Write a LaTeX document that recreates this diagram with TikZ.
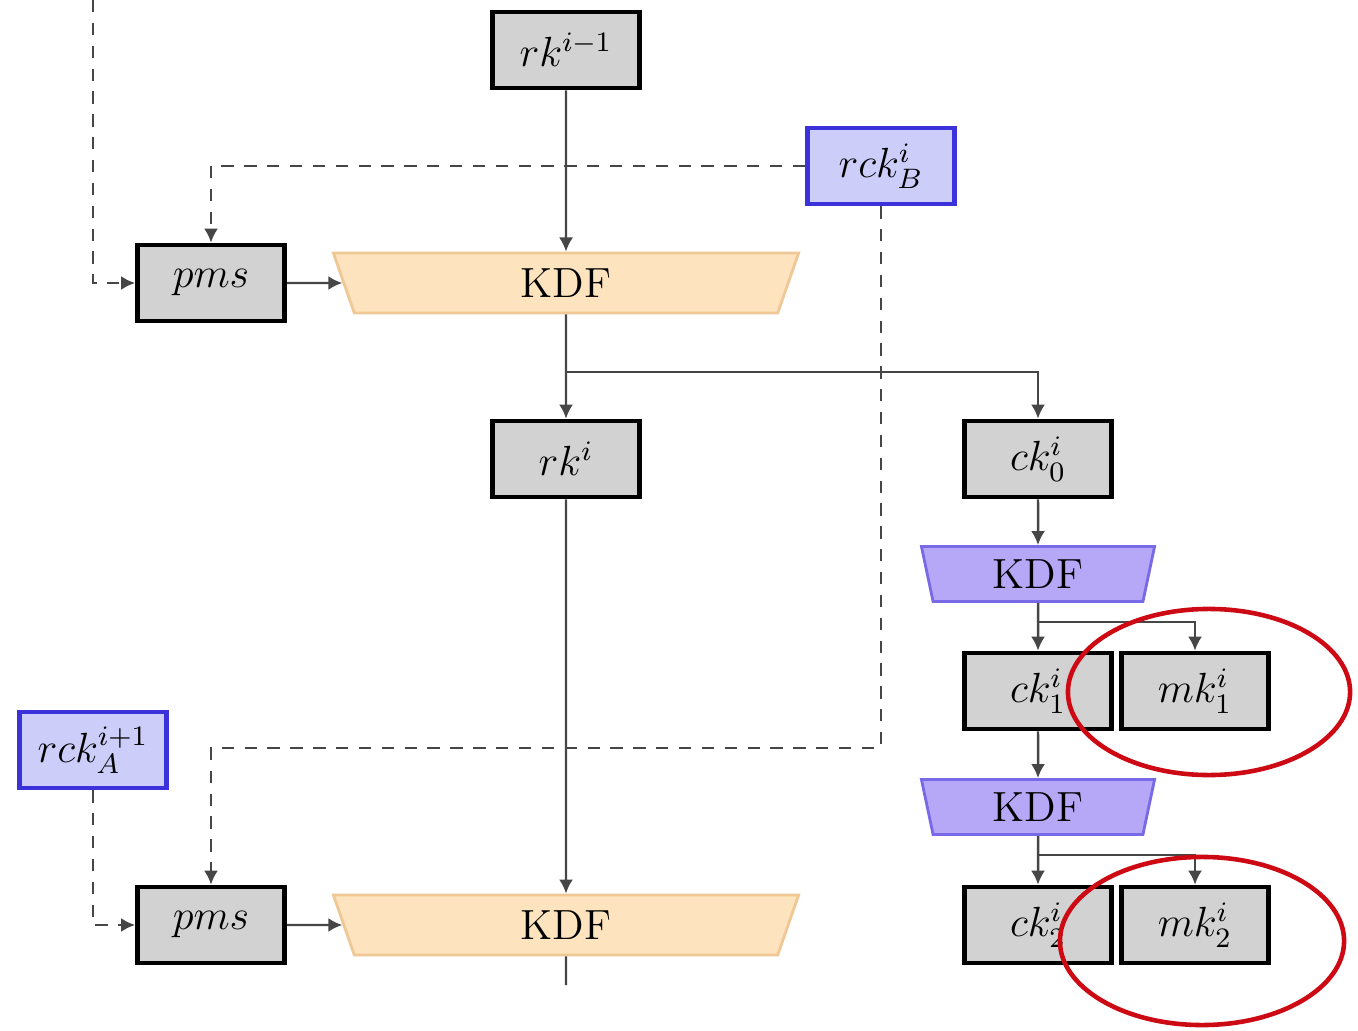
\documentclass[tikz,border=0pt]{standalone}
\usetikzlibrary{arrows.meta,shapes.geometric}
\definecolor{boxgray}{RGB}{210,210,210}
\definecolor{bluefill}{RGB}{205,205,250}
\definecolor{blueline}{RGB}{60,50,220}
\definecolor{kdforange}{RGB}{253,228,190}
\definecolor{kdforangeline}{RGB}{240,200,150}
\definecolor{kdfpurple}{RGB}{182,168,246}
\definecolor{kdfpurpleline}{RGB}{120,105,230}
\definecolor{linegray}{RGB}{70,70,70}
\definecolor{ellred}{RGB}{205,10,20}
\begin{document}
\begin{tikzpicture}[x=0.01cm,y=-0.01cm,font=\large,
  keybox/.style={draw=black,line width=1.3pt,fill=boxgray,minimum width=1.47cm,minimum height=0.76cm,inner sep=0pt},
  bluebox/.style={keybox,draw=blueline,fill=bluefill},
  kdfbig/.style={trapezium,shape border rotate=180,trapezium stretches body,trapezium left angle=54,trapezium right angle=54,minimum width=4.65cm,minimum height=0.6cm,inner sep=0pt,fill=kdforange,draw=kdforangeline,line width=0.8pt},
  kdfsmall/.style={trapezium,shape border rotate=180,trapezium stretches body,trapezium left angle=68,trapezium right angle=68,minimum width=2.33cm,minimum height=0.55cm,inner sep=0pt,fill=kdfpurple,draw=kdfpurpleline,line width=0.8pt},
  conn/.style={draw=linegray,line width=0.7pt,-{Latex[length=4pt,width=4pt]}},
  dconn/.style={conn,dash pattern=on 3.5pt off 3pt},
  ring/.style={draw=ellred,line width=1.3pt}]
\useasboundingbox (0,0) rectangle (1358,1031);
% nodes
\node[keybox] (rkprev) at (566,50) {$rk^{i-1}$};
\node[bluebox] (rckB) at (881,166) {$rck_B^i$};
\node[keybox] (pms1) at (211,283) {$pms$};
\node[kdfbig] (kdf1) at (566,283) {KDF};
\node[keybox] (rk) at (566,459) {$rk^i$};
\node[keybox] (ck0) at (1038,459) {$ck_0^i$};
\node[kdfsmall] (kdf2) at (1038,574) {KDF};
\node[keybox] (ck1) at (1038,691) {$ck_1^i$};
\node[keybox] (mk1) at (1195,691) {$mk_1^i$};
\node[kdfsmall] (kdf3) at (1038,807) {KDF};
\node[keybox] (ck2) at (1038,925) {$ck_2^i$};
\node[keybox] (mk2) at (1195,925) {$mk_2^i$};
\node[bluebox] (rckA) at (93,750) {$rck_A^{i+1}$};
\node[keybox] (pms2) at (211,925) {$pms$};
\node[kdfbig] (kdf4) at (566,925) {KDF};
\coordinate (topin) at (93,0);
\coordinate (botout) at (566,985);
% connectors
\draw[dconn] (topin) |- (pms1.west);
\draw[dconn] (rckB.west) -| (pms1.north);
\draw[dconn] (rckB.south) -- (rckB.south |- 0,748) -| (pms2.north);
\draw[dconn] (rckA.south) |- (pms2.west);
\draw[conn] (rkprev.south) -- (kdf1.north);
\draw[conn] (pms1.east) -- (kdf1.west);
\draw[conn] (kdf1.south) -- (rk.north);
\draw[conn] (kdf1.south |- 0,372) -| (ck0.north);
\draw[conn] (rk.south) -- (kdf4.north);
\draw[conn] (pms2.east) -- (kdf4.west);
\draw[draw=linegray,line width=0.7pt] (kdf4.south) -- (botout);
\draw[conn] (ck0.south) -- (kdf2.north);
\draw[conn] (kdf2.south) -- (ck1.north);
\draw[conn] (kdf2.south |- 0,622) -| (mk1.north);
\draw[conn] (ck1.south) -- (kdf3.north);
\draw[conn] (kdf3.south) -- (ck2.north);
\draw[conn] (kdf3.south |- 0,855) -| (mk2.north);
% highlight rings
\draw[ring] (1209,692) ellipse [x radius=1.41cm,y radius=0.83cm];
\draw[ring] (1202,941) ellipse [x radius=1.42cm,y radius=0.84cm];
\end{tikzpicture}
\end{document}
